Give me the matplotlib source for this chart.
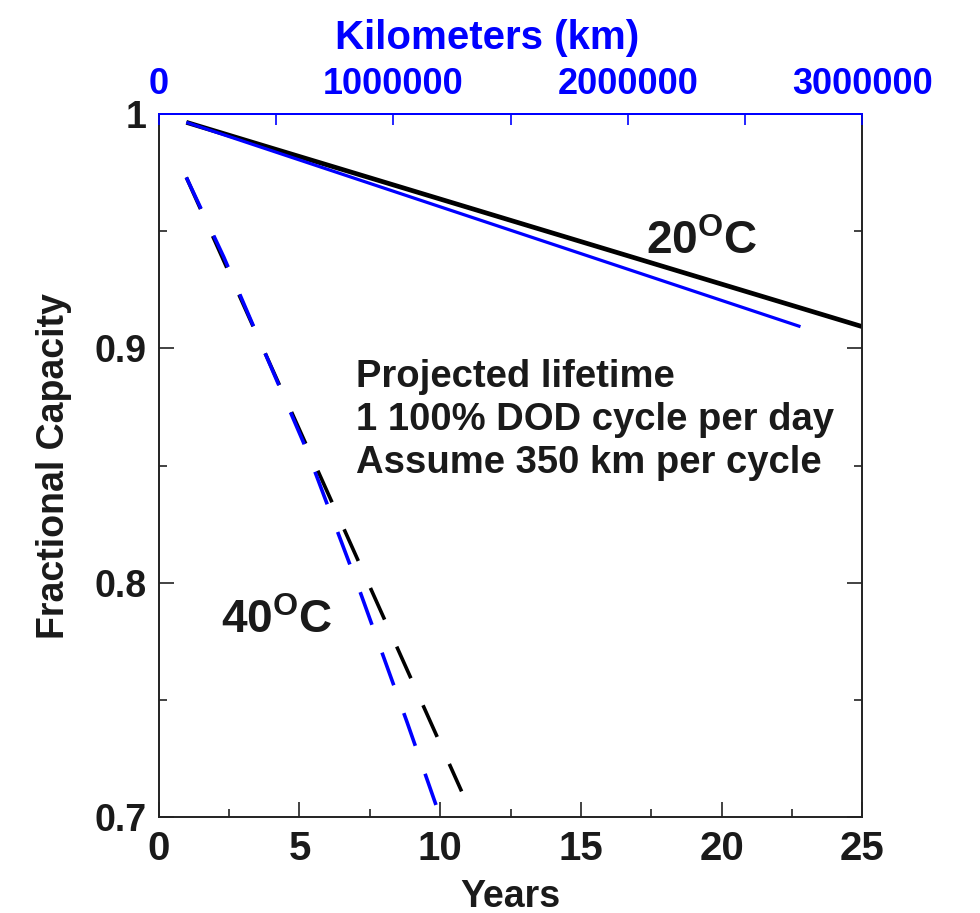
import matplotlib
matplotlib.use("Agg")
import matplotlib.pyplot as plt
from matplotlib.ticker import MultipleLocator, FuncFormatter

plt.rcParams['font.family'] = ['Liberation Sans', 'DejaVu Sans']
plt.rcParams['font.weight'] = 'bold'
plt.rcParams['axes.labelweight'] = 'bold'
plt.rcParams['mathtext.fontset'] = 'custom'
plt.rcParams['mathtext.bf'] = 'Liberation Sans:bold'
plt.rcParams['mathtext.rm'] = 'Liberation Sans:bold'

BLUE = '#0000ff'
INK = '#1a1a1a'

# 20 C, solid lines
years_20_black = [0.98, 25.0]
cap_20_black = [0.9965, 0.9093]
years_20_blue = [0.98, 22.8]
cap_20_blue = [0.9965, 0.9093]

# 40 C, dashed lines
years_40_black = [0.98, 10.76]
cap_40_black = [0.973, 0.711]
years_40_blue = [0.98, 2.31, 5.28, 7.08, 8.82, 9.85]
cap_40_blue = [0.973, 0.939, 0.856, 0.7986, 0.7406, 0.7052]

note_lines = ['Projected lifetime', '1 100% DOD cycle per day', 'Assume 350 km per cycle']

fig = plt.figure(figsize=(9.8, 9.13), dpi=100)
ax = fig.add_axes([0.162, 0.105, 0.718, 0.770])

ax.plot(years_20_black, cap_20_black, color='black', lw=3.4, solid_capstyle='butt')
ax.plot(years_20_blue, cap_20_blue, color=BLUE, lw=2.3, solid_capstyle='butt')
ax.plot(years_40_black, cap_40_black, color='black', lw=2.6,
        linestyle=(0, (9.6, 8.2)), dash_capstyle='butt')
ax.plot(years_40_blue, cap_40_blue, color=BLUE, lw=2.6,
        linestyle=(0, (9.6, 8.2)), dash_capstyle='butt')

ax.set_xlim(0, 25)
ax.set_ylim(0.7, 1.0)

ax.xaxis.set_major_locator(MultipleLocator(5))
ax.xaxis.set_minor_locator(MultipleLocator(2.5))
ax.yaxis.set_major_locator(MultipleLocator(0.1))
ax.yaxis.set_minor_locator(MultipleLocator(0.05))
ax.yaxis.set_major_formatter(FuncFormatter(lambda v, p: '1' if abs(v - 1) < 1e-9 else f'{v:.1f}'))
ax.tick_params(which='both', direction='in', top=False, right=True, width=1.2, color='#222')
ax.tick_params(which='major', length=11)
ax.tick_params(which='minor', length=6)
ax.tick_params(axis='x', which='major', pad=9, labelsize=29, labelcolor=INK)
ax.tick_params(axis='y', which='major', pad=9, labelsize=27, labelcolor=INK)

for s in ['left', 'right', 'bottom']:
    ax.spines[s].set_linewidth(1.4)
    ax.spines[s].set_color('#222')
ax.spines['top'].set_color(BLUE)
ax.spines['top'].set_linewidth(1.4)

ax.set_xlabel('Years', fontsize=27, color=INK, labelpad=8)
ax.set_ylabel('Fractional Capacity', fontsize=27, color=INK, labelpad=16)

# top km axis
top = ax.twiny()
top.set_xlim(0, 3000000)
top.xaxis.set_major_locator(MultipleLocator(500000))
top.xaxis.set_major_formatter(FuncFormatter(lambda v, p: f'{int(round(v))}' if round(v) % 1000000 == 0 else ''))
top.tick_params(axis='x', direction='in', length=8, width=1.2, color=BLUE,
                labelcolor=BLUE, labelsize=26, pad=9)
for s in ['left', 'right', 'bottom']:
    top.spines[s].set_visible(False)
top.spines['top'].set_color(BLUE)
top.spines['top'].set_linewidth(1.4)
top.set_xlabel('Kilometers (km)', fontsize=29, color=BLUE)
top.xaxis.set_label_coords(0.467, 1.092)

ax.text(17.3, 0.9405, r'20$^{\mathbf{O}}$C', fontsize=33, color=INK, ha='left', va='baseline')
ax.text(2.2, 0.7785, r'40$^{\mathbf{O}}$C', fontsize=33, color=INK, ha='left', va='baseline')
ax.text(7.0, 0.8955, '\n'.join(note_lines), fontsize=27.5, color=INK,
        ha='left', va='top', linespacing=1.25)

fig.savefig('out.png', dpi=100)
